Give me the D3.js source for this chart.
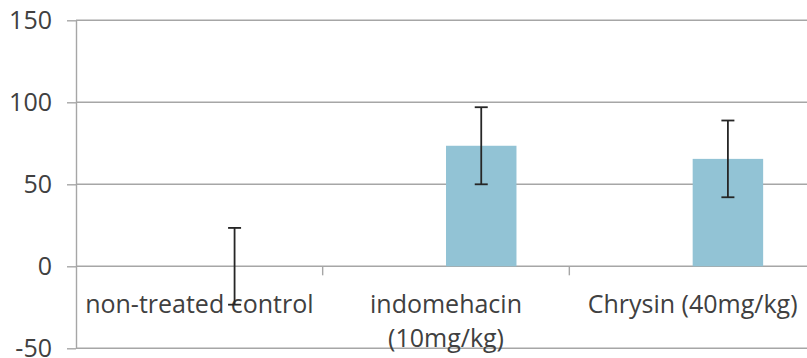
<!DOCTYPE html>
<html>
<head>
<meta charset="utf-8">
<script src="https://cdn.jsdelivr.net/npm/d3@7"></script>
<style>
  html, body { margin: 0; padding: 0; background: #fff; }
  svg { display: block; }
  text { font-family: "Open Sans", "Noto Sans", sans-serif; fill: #404040; }
</style>
</head>
<body>
<div id="chart"></div>
<script>
// ---- data ----
const categories = ["non-treated control", "indomehacin (10mg/kg)", "Chrysin (40mg/kg)"];
const categoryLines = [["non-treated control"], ["indomehacin", "(10mg/kg)"], ["Chrysin (40mg/kg)"]];
const values = [0, 73.5, 65.5];
const errors = [23.4, 23.5, 23.4];
const yTicks = [-50, 0, 50, 100, 150];
const seriesKeys = ["hidden", "shown"];

// ---- layout ----
const W = 807, H = 358;
const plotLeft = 76, plotRight = 816, yTop = 20.3, yBottom = 348.3;

const svg = d3.select("#chart").append("svg").attr("width", W).attr("height", H);

const y = d3.scaleLinear().domain([-50, 150]).range([yBottom, yTop]);
const x = d3.scaleBand().domain(categories).range([plotLeft, plotRight]).paddingInner(0).paddingOuter(0);
const x1 = d3.scaleBand().domain(seriesKeys).range([0, x.bandwidth()]).paddingInner(0).paddingOuter(0.75);

const gridColor = "#a6a6a6";

// gridlines
svg.append("g").selectAll("line").data(yTicks).join("line")
  .attr("x1", plotLeft).attr("x2", plotRight)
  .attr("y1", d => y(d)).attr("y2", d => y(d))
  .attr("stroke", gridColor).attr("stroke-width", 1.4);

// y axis
const yAxis = svg.append("g").attr("transform", `translate(${plotLeft},0)`)
  .call(d3.axisLeft(y).tickValues(yTicks).tickFormat(d => String(d)).tickSize(9).tickPadding(15).tickSizeOuter(0));
yAxis.select(".domain").attr("stroke", gridColor).attr("stroke-width", 1.4);
yAxis.selectAll(".tick line").attr("stroke", gridColor).attr("stroke-width", 1.4);
yAxis.selectAll(".tick text").attr("font-size", 25).attr("fill", "#404040")
  .attr("font-family", '"Open Sans", "Noto Sans", sans-serif').attr("dy", "0.32em");

// category ticks on zero line
const boundaries = categories.slice(1).map(c => x(c));
svg.append("g").selectAll("line").data(boundaries).join("line")
  .attr("x1", d => d).attr("x2", d => d)
  .attr("y1", y(0)).attr("y2", y(0) + 9)
  .attr("stroke", gridColor).attr("stroke-width", 1.4);

// bars
const barData = categories.map((c, i) => ({c, v: values[i], e: errors[i]}));
svg.append("g").selectAll("rect").data(barData).join("rect")
  .attr("x", d => x(d.c) + x1("shown"))
  .attr("width", x1.bandwidth())
  .attr("y", d => y(Math.max(0, d.v)))
  .attr("height", d => Math.abs(y(d.v) - y(0)))
  .attr("fill", "#92c3d5");

// category labels
const lab = svg.append("g");
categories.forEach((c, i) => {
  const cx = x(c) + x.bandwidth() / 2;
  categoryLines[i].forEach((line, j) => {
    lab.append("text").attr("x", cx).attr("y", 313.3 + j * 33.5)
      .attr("text-anchor", "middle").attr("font-size", 25).text(line);
  });
});

// error bars
const eg = svg.append("g").attr("stroke", "#262626").attr("stroke-width", 1.8);
barData.forEach(d => {
  const cx = x(d.c) + x1("shown") + x1.bandwidth() / 2;
  const capW = 13;
  eg.append("line").attr("x1", cx).attr("x2", cx).attr("y1", y(d.v + d.e)).attr("y2", y(d.v - d.e));
  eg.append("line").attr("x1", cx - capW / 2).attr("x2", cx + capW / 2).attr("y1", y(d.v + d.e)).attr("y2", y(d.v + d.e));
  eg.append("line").attr("x1", cx - capW / 2).attr("x2", cx + capW / 2).attr("y1", y(d.v - d.e)).attr("y2", y(d.v - d.e));
});
</script>
</body>
</html>
